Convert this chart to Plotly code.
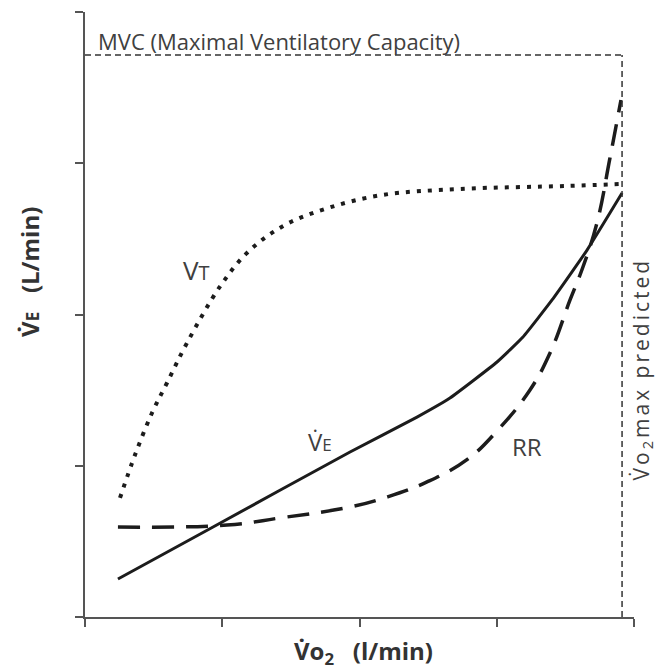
import plotly.graph_objects as go

# ---- data (in axis units 0..4) ----
vt_x = [0.255, 0.364, 0.488, 0.597, 0.743, 0.991, 1.195, 1.457, 1.770, 2.164, 2.732, 3.512, 3.913]
vt_y = [0.787, 1.071, 1.349, 1.547, 1.812, 2.195, 2.420, 2.592, 2.704, 2.790, 2.830, 2.850, 2.863]

ve_x = [0.240, 0.933, 1.931, 2.419, 2.659, 3.002, 3.191, 3.403, 3.658, 3.913]
ve_y = [0.251, 0.595, 1.091, 1.322, 1.448, 1.686, 1.851, 2.096, 2.426, 2.803]

rr_x = [0.240, 1.035, 1.421, 1.931, 2.200, 2.492, 2.783, 3.002, 3.242, 3.388, 3.534, 3.628, 3.730, 3.825, 3.905]
rr_y = [0.595, 0.608, 0.655, 0.727, 0.793, 0.893, 1.040, 1.230, 1.501, 1.745, 2.096, 2.314, 2.605, 3.035, 3.418]

MVC_Y = 3.716
VO2MAX_X = 3.913
AX_MAX = 4
tick_vals = [0, 1, 2, 3, 4]

INK = "#1c1c1c"
TXT = "#404040"
AX = "#555555"
FONT = "Open Sans"

fig = go.Figure()

fig.add_trace(go.Scatter(x=vt_x, y=vt_y, mode="lines",
                         line=dict(color=INK, width=4, dash="4px,7px", shape="spline", smoothing=1.0),
                         hoverinfo="skip", cliponaxis=False))
fig.add_trace(go.Scatter(x=rr_x, y=rr_y, mode="lines",
                         line=dict(color=INK, width=3.5, dash="22px,12px", shape="spline", smoothing=1.2),
                         hoverinfo="skip", cliponaxis=False))
fig.add_trace(go.Scatter(x=ve_x, y=ve_y, mode="lines",
                         line=dict(color=INK, width=3, shape="spline", smoothing=0.4),
                         hoverinfo="skip", cliponaxis=False))

# MVC and VO2max reference lines
fig.add_shape(type="line", x0=0, x1=VO2MAX_X, y0=MVC_Y, y1=MVC_Y, xref="x", yref="y",
              line=dict(color="#333333", width=1.5, dash="6px,4px"))
fig.add_shape(type="line", x0=VO2MAX_X, x1=VO2MAX_X, y0=0, y1=MVC_Y, xref="x", yref="y",
              line=dict(color="#333333", width=1.5, dash="6px,4px"))


def P(v):
    return v / AX_MAX


ann = [
    dict(x=P(0.080), y=P(3.808), text="MVC (Maximal Ventilatory Capacity)", xanchor="left", yanchor="middle",
         font=dict(size=22, color=TXT, family=FONT)),
    dict(x=P(0.816), y=P(2.294), text="V<span style='font-size:20px'>T</span>", xanchor="center", yanchor="middle",
         font=dict(size=26, color=TXT, family=FONT)),
    dict(x=P(1.712), y=P(1.160), text="V\u0307<span style='font-size:17px'>E</span>", xanchor="center", yanchor="middle",
         font=dict(size=24, color=TXT, family=FONT)),
    dict(x=P(3.220), y=P(1.124), text="RR", xanchor="center", yanchor="middle",
         font=dict(size=24, color=TXT, family=FONT)),
    dict(x=P(4.055), y=P(1.640), text="<span style='letter-spacing:3px'>V\u0307o<sub>2</sub>max predicted</span>",
         textangle=-90, xanchor="center", yanchor="middle",
         font=dict(size=21, color=TXT, family=FONT)),
    dict(x=P(2.030), y=P(-0.231), text="<b>V\u0307o<sub>2</sub>   (l/min)</b>", xanchor="center", yanchor="middle",
         font=dict(size=24, color="#333333", family=FONT)),
    dict(x=P(-0.401), y=P(2.281), text="<b>V\u0307<span style='font-size:17px'>E</span>   (L/min)</b>", textangle=-90,
         xanchor="center", yanchor="middle", font=dict(size=24, color="#333333", family=FONT)),
]
for a in ann:
    a.update(xref="paper", yref="paper", showarrow=False)
fig.update_layout(annotations=ann)

axis_common = dict(range=[0, AX_MAX], tickvals=tick_vals, showticklabels=False, ticks="outside", ticklen=8,
                   tickwidth=2, tickcolor=AX, showline=True, linecolor=AX, linewidth=2,
                   showgrid=False, zeroline=False, fixedrange=True)
fig.update_xaxes(**axis_common)
fig.update_yaxes(**axis_common)

fig.update_layout(width=657, height=672, margin=dict(l=85, r=23, t=12, b=55),
                  paper_bgcolor="white", plot_bgcolor="white", showlegend=False,
                  font=dict(family=FONT, color=TXT))

fig.write_html("out.html")
